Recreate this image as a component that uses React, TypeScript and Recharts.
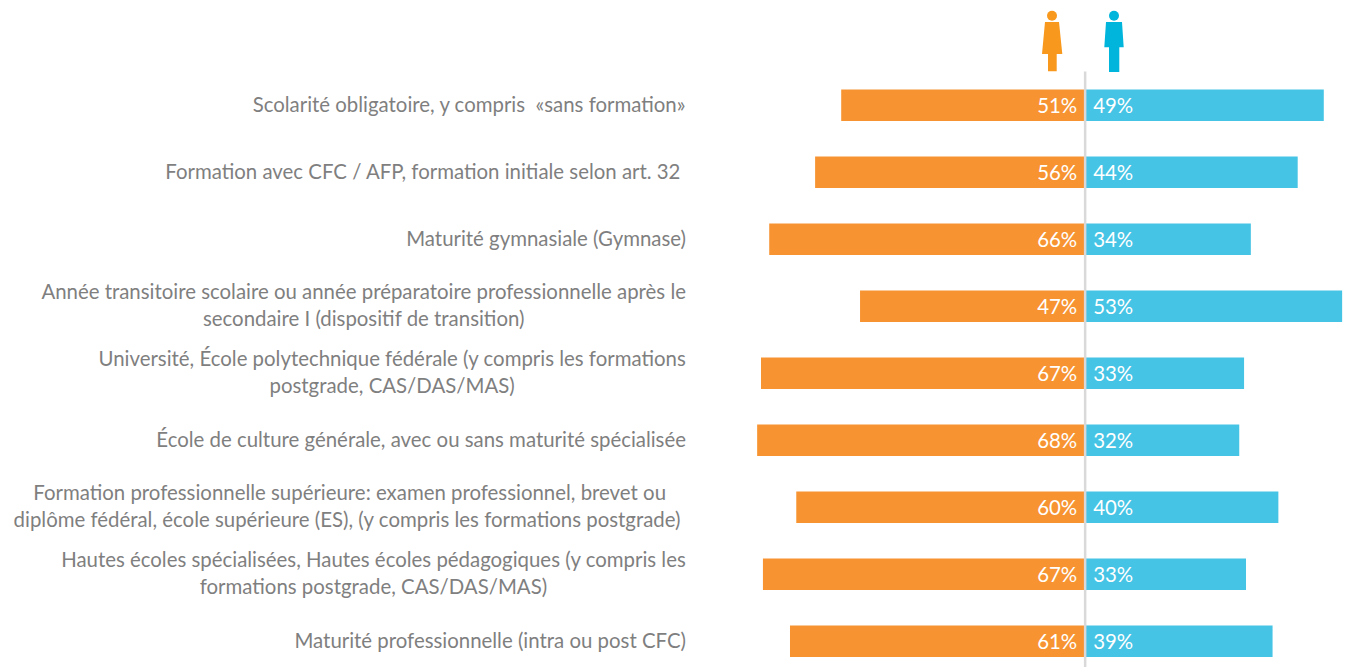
import { Bar, BarChart, LabelList, ReferenceLine, XAxis, YAxis } from "recharts";

const categories = [
  "Scolarité obligatoire, y compris  «sans formation»",
  "Formation avec CFC / AFP, formation initiale selon art. 32 ",
  "Maturité gymnasiale (Gymnase)",
  "Année transitoire scolaire ou année préparatoire professionnelle après le\nsecondaire I (dispositif de transition)",
  "Université, École polytechnique fédérale (y compris les formations\npostgrade, CAS/DAS/MAS)",
  "École de culture générale, avec ou sans maturité spécialisée",
  "Formation professionnelle supérieure: examen professionnel, brevet ou\ndiplôme fédéral, école supérieure (ES), (y compris les formations postgrade) ",
  "Hautes écoles spécialisées, Hautes écoles pédagogiques (y compris les\nformations postgrade, CAS/DAS/MAS)",
  "Maturité professionnelle (intra ou post CFC)",
];

// bar lengths, they differ slightly from the printed labels
const femmes = [-50.5, -55.9, -65.4, -46.6, -67.1, -67.9, -59.8, -66.7, -61.1];
const hommes = [49.4, 44.0, 34.3, 53.2, 32.9, 31.9, 40.0, 33.3, 38.8];
const femmesLabels = ["51%", "56%", "66%", "47%", "67%", "68%", "60%", "67%", "61%"];
const hommesLabels = ["49%", "44%", "34%", "53%", "33%", "32%", "40%", "33%", "39%"];

const FONT = "Lato";
const FONT_SIZE = 20.4;
const LINE_HEIGHT = 27;
const LABEL_RIGHT = 686;

const data = categories.map((categorie, i) => ({
  categorie,
  femmes: femmes[i],
  hommes: hommes[i],
  femmesLabel: femmesLabels[i],
  hommesLabel: hommesLabels[i],
}));

const measure = document.createElement("canvas").getContext("2d")!;
measure.font = `${FONT_SIZE}px ${FONT}`;

function CategoryTick({ y, payload }: any) {
  const lines: string[] = String(payload.value).split("\n");
  const widest = Math.max(...lines.map((l) => measure.measureText(l).width));
  const cx = LABEL_RIGHT - widest / 2;
  const firstY = y - ((lines.length - 1) * LINE_HEIGHT) / 2;
  return (
    <text
      textAnchor="middle"
      fontFamily={FONT}
      fontSize={FONT_SIZE}
      fill="#7f7f7f"
      style={{ whiteSpace: "pre" }}
    >
      {lines.map((l, i) => (
        <tspan key={i} x={cx} y={firstY + i * LINE_HEIGHT} dy="0.33em">
          {l}
        </tspan>
      ))}
    </text>
  );
}

function Pictos() {
  return (
    <svg width={1348} height={80} style={{ position: "absolute", left: 0, top: 0 }}>
      <circle cx={1052} cy={15.7} r={5} fill="#f8981d" />
      <path d="M1045 22H1059L1062.3 54H1056.7V71.3H1048V54H1042Z" fill="#f8981d" />
      <circle cx={1114} cy={15.7} r={5} fill="#00b5dc" />
      <path d="M1106 22H1122L1123.7 47.3H1119.3V72H1109V47.3H1104.3Z" fill="#00b5dc" />
    </svg>
  );
}

export default function App() {
  return (
    <div
      style={{
        position: "absolute",
        left: 0,
        top: 0,
        width: 1348,
        height: 667,
        overflow: "hidden",
        background: "#fff",
      }}
    >
      <BarChart
        width={1348}
        height={674.5}
        data={data}
        layout="vertical"
        stackOffset="sign"
        barSize={31.5}
        margin={{ top: 71.5, right: 2, bottom: 0, left: 0 }}
      >
        <XAxis type="number" domain={[-70, 54]} hide />
        <YAxis
          type="category"
          dataKey="categorie"
          width={747}
          axisLine={false}
          tickLine={false}
          interval={0}
          tick={<CategoryTick />}
        />
        <Bar dataKey="femmes" stackId="a" fill="#f79431" isAnimationActive={false}>
          <LabelList
            dataKey="femmesLabel"
            position="insideLeft"
            offset={8}
            dy={1}
            fill="#fff"
            fontFamily={FONT}
            fontSize={FONT_SIZE}
          />
        </Bar>
        <Bar dataKey="hommes" stackId="a" fill="#45c4e5" isAnimationActive={false}>
          <LabelList
            dataKey="hommesLabel"
            position="insideLeft"
            offset={8}
            dy={1}
            fill="#fff"
            fontFamily={FONT}
            fontSize={FONT_SIZE}
          />
        </Bar>
        <ReferenceLine x={0} stroke="#d9d9d9" strokeWidth={2.5} />
      </BarChart>
      <Pictos />
    </div>
  );
}
